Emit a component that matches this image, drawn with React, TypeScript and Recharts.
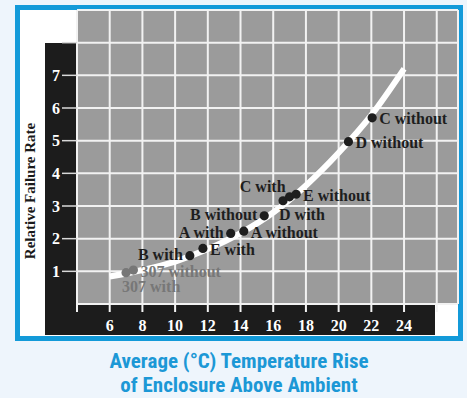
import { ComposedChart, Line, Scatter, XAxis, YAxis, CartesianGrid } from 'recharts';

// white trend curve
const curveTemps = [6, 8, 10, 12, 14, 16, 18, 20, 22, 24];
const curveRates = [0.84, 1.04, 1.3, 1.68, 2.17, 2.8, 3.63, 4.63, 5.78, 7.2];

// measured enclosures
const pointNames = [
  '307 with', '307 without', 'B with', 'E with', 'A with', 'A without',
  'B without', 'D with', 'C with', 'E without', 'D without', 'C without',
];
const pointTemps = [7.0, 7.45, 10.9, 11.7, 13.4, 14.2, 15.45, 16.6, 17.0, 17.4, 20.6, 22.05];
const pointRates = [0.96, 1.04, 1.48, 1.7, 2.16, 2.23, 2.7, 3.16, 3.28, 3.36, 4.97, 5.7];

const xTicks = [4, 6, 8, 10, 12, 14, 16, 18, 20, 22, 24, 26];
const xTickLabels = ['', '6', '8', '10', '12', '14', '16', '18', '20', '22', '24', ''];
const yTicks = [1, 2, 3, 4, 5, 6, 7, 8];
const yTickLabels = ['1', '2', '3', '4', '5', '6', '7', ''];

const curveData = curveTemps.map((t, i) => ({ temp: t, rate: curveRates[i] }));
const pointData = pointNames.map((name, i) => ({ name, temp: pointTemps[i], rate: pointRates[i] }));

const BLUE = '#139ad9';
const SERIF = '"Liberation Serif", "Times New Roman", serif';

type Placement = 'right' | 'left' | 'below' | 'aboveLeft';
const labelPlacement: Record<string, Placement> = {
  '307 with': 'below',
  '307 without': 'right',
  'B with': 'left',
  'E with': 'right',
  'A with': 'left',
  'A without': 'right',
  'B without': 'left',
  'D with': 'below',
  'C with': 'aboveLeft',
  'E without': 'right',
  'D without': 'right',
  'C without': 'right',
};

function PointShape(props: any) {
  const { cx, cy, payload } = props;
  const faded = payload.name.startsWith('307');
  const color = faded ? '#777777' : '#1e1e1e';
  const place = labelPlacement[payload.name];
  let x = cx + 7;
  let y = cy + 1;
  let anchor: 'start' | 'end' = 'start';
  if (place === 'left') {
    x = cx - 7;
    y = cy - 1;
    anchor = 'end';
  } else if (place === 'below') {
    x = cx - 4;
    y = cy + 14;
  } else if (place === 'aboveLeft') {
    x = cx - 4;
    y = cy - 10;
    anchor = 'end';
  }
  return (
    <g>
      <circle cx={cx} cy={cy} r={4.6} fill={color} />
      <text
        x={x}
        y={y}
        textAnchor={anchor}
        dominantBaseline="central"
        fontFamily={SERIF}
        fontWeight="bold"
        fontSize={16}
        fill={color}
      >
        {payload.name}
      </text>
    </g>
  );
}

export default function App() {
  return (
    <div
      style={{
        position: 'absolute',
        left: 0,
        top: 0,
        width: 467,
        height: 398,
        background: '#eef5fc',
        overflow: 'hidden',
      }}
    >
      <div
        style={{
          position: 'absolute',
          left: 15,
          top: 5,
          width: 448,
          height: 336,
          border: `5px solid ${BLUE}`,
          boxSizing: 'border-box',
          background: '#ffffff',
        }}
      />
      <div style={{ position: 'absolute', left: 45, top: 43, width: 32, height: 292, background: '#1c1c1c' }} />
      <div style={{ position: 'absolute', left: 45, top: 304, width: 390, height: 31, background: '#1c1c1c' }} />
      <div
        style={{
          position: 'absolute',
          left: 30,
          top: 191,
          transform: 'translate(-50%, -50%) rotate(-90deg)',
          whiteSpace: 'nowrap',
          fontFamily: SERIF,
          fontWeight: 'bold',
          fontSize: 15,
          color: '#1a1a1a',
        }}
      >
        Relative Failure Rate
      </div>
      <div style={{ position: 'absolute', left: 0, top: 0 }}>
        <ComposedChart width={467} height={398} margin={{ top: 10, right: 9, bottom: 64, left: 47 }}>
          <CartesianGrid fill="#9b9b9b" stroke="#f2f2f2" strokeWidth={2} />
          <XAxis
            type="number"
            dataKey="temp"
            domain={[4, 27.3]}
            ticks={xTicks}
            tickFormatter={(v: number) => xTickLabels[xTicks.indexOf(v)] ?? ''}
            allowDataOverflow
            height={30}
            tickSize={8}
            tickMargin={8}
            axisLine={{ stroke: '#f2f2f2', strokeWidth: 2 }}
            tickLine={{ stroke: '#f2f2f2', strokeWidth: 2 }}
            tick={{ fill: '#ffffff', fontSize: 16, fontWeight: 'bold', fontFamily: SERIF }}
            interval={0}
          />
          <YAxis
            type="number"
            dataKey="rate"
            domain={[0, 9]}
            ticks={yTicks}
            tickFormatter={(v: number) => yTickLabels[yTicks.indexOf(v)] ?? ''}
            allowDataOverflow
            width={30}
            tickSize={15}
            tickMargin={2}
            axisLine={false}
            tickLine={{ stroke: '#d8d8d8', strokeWidth: 1.5 }}
            tick={{ fill: '#ffffff', fontSize: 16, fontWeight: 'bold', fontFamily: SERIF }}
            interval={0}
          />
          <Line
            data={curveData}
            dataKey="rate"
            type="monotone"
            stroke="#ffffff"
            strokeWidth={6}
            dot={false}
            activeDot={false}
            isAnimationActive={false}
          />
          <Scatter data={pointData} dataKey="rate" shape={PointShape} isAnimationActive={false} />
        </ComposedChart>
      </div>
      <div
        style={{
          position: 'absolute',
          left: 0,
          width: 478,
          top: 349,
          textAlign: 'center',
          fontFamily: '"Liberation Sans Narrow", "Roboto Condensed", "Liberation Sans", sans-serif',
          fontWeight: 'bold',
          fontSize: 21,
          lineHeight: '24px',
          color: '#1c98d6',
        }}
      >
        Average (°C) Temperature Rise
        <br />
        of Enclosure Above Ambient
      </div>
    </div>
  );
}
